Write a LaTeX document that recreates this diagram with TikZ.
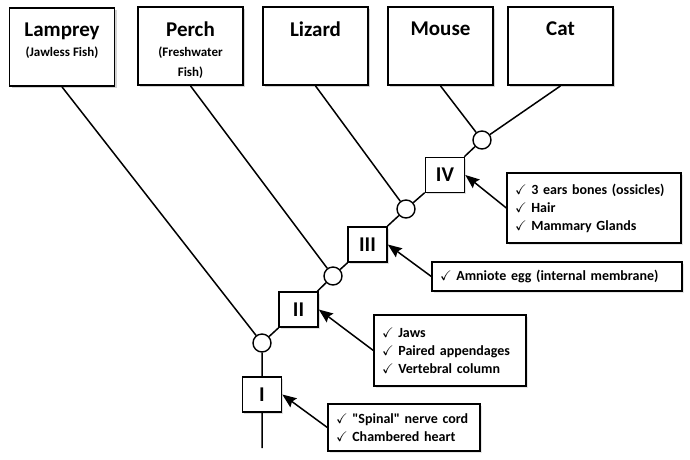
\documentclass[tikz,border=0pt]{standalone}
\usepackage{fontspec}
\setmainfont{Carlito}
\usepackage{amssymb}
\usetikzlibrary{positioning, arrows.meta, shadows}

% box text for the taxa: title, then smaller subtitle
\newcommand{\taxon}[2]{\parbox[t][74pt][t]{105pt}{\centering\vspace*{13pt}%
  \fontsize{21}{20}\selectfont\textbf{#1}\\\fontsize{13}{20}\selectfont\textbf{#2}}}
\newcommand{\tick}{$\checkmark$\,\,}

\tikzset{
  taxonbox/.style={draw, line width=1.8pt, fill=white, minimum width=105pt,
    minimum height=78pt, inner sep=0pt, anchor=center,
    drop shadow={shadow xshift=2pt, shadow yshift=-2pt, opacity=0.35}},
  clade/.style={draw, line width=1.6pt, fill=white, minimum width=39pt,
    minimum height=35pt, inner sep=0pt, font=\fontsize{21}{21}\selectfont\bfseries,
    drop shadow={shadow xshift=1.5pt, shadow yshift=-1.5pt, opacity=0.25}},
  trait/.style={draw, line width=1.3pt, fill=white, inner xsep=8pt, inner ysep=4pt,
    align=left, font=\fontsize{14}{18}\selectfont\bfseries,
    drop shadow={shadow xshift=1.5pt, shadow yshift=-1.5pt, opacity=0.2}},
  fork/.style={draw, circle, line width=1.4pt, fill=white, minimum size=18pt, inner sep=0pt},
  branch/.style={line width=1.5pt},
  pointer/.style={line width=1.5pt, -{Stealth[length=14pt, width=11pt, inset=2pt]}}
}

\begin{document}
\begin{tikzpicture}[x=1pt, y=-1pt]
    \useasboundingbox (0,0) rectangle (690,459);

    % taxa
    \node[taxonbox] (lamprey) at (62,47)    {\taxon{Lamprey}{(Jawless Fish)}};
    \node[taxonbox] (perch)   at (190.5,46) {\taxon{Perch}{(Freshwater\\Fish)}};
    \node[taxonbox] (lizard)  at (315.5,46) {\taxon{Lizard}{}};
    \node[taxonbox] (mouse)   at (440.5,46) {\taxon{Mouse}{}};
    \node[taxonbox] (cat)     at (560.5,46) {\taxon{Cat}{}};

    % branch points
    \node[fork] (f1) at (262,343) {};
    \node[fork] (f2) at (333,276) {};
    \node[fork] (f3) at (406,209) {};
    \node[fork] (f4) at (482,140) {};
    \coordinate (root) at (262,448);

    % shared characters
    \node[clade] (c1) at (262,394.5)   {I};
    \node[clade] (c2) at (298.5,309.5) {II};
    \node[clade] (c3) at (367.5,244.5) {III};
    \node[clade] (c4) at (445,175)     {IV};

    % main stem
    \draw[branch] (root) -- (c1) -- (f1) -- (c2) -- (f2) -- (c3) -- (f3) -- (c4) -- (f4) -- (cat.south);

    % side branches
    \draw[branch] (lamprey.south) -- (f1);
    \draw[branch] (perch.south) -- (f2);
    \draw[branch] (lizard.south) -- (f3);
    \draw[branch] (mouse.south) -- (f4);

    % lists of traits
    \node[trait, text width=158pt, minimum height=70pt] (t4) at (594,208)
        {\tick 3 ears bones (ossicles)\\\tick Hair\\\tick Mammary Glands};
    \node[trait, text width=234pt, minimum height=29pt] (t3) at (557,276.5)
        {\tick Amniote egg (internal membrane)};
    \node[trait, text width=136pt, minimum height=71pt] (t2) at (450,350.5)
        {\tick Jaws\\\tick Paired appendages\\\tick Vertebral column};
    \node[trait, text width=136pt, minimum height=47pt] (t1) at (404,427.5)
        {\tick \textquotedbl Spinal\textquotedbl{} nerve cord\\\tick Chambered heart};

    \draw[pointer] (t4.west) -- (c4.east);
    \draw[pointer] (t3.west) -- (c3.east);
    \draw[pointer] (t2.west) -- (c2.east);
    \draw[pointer] (t1.west) -- (c1.east);
\end{tikzpicture}
\end{document}
